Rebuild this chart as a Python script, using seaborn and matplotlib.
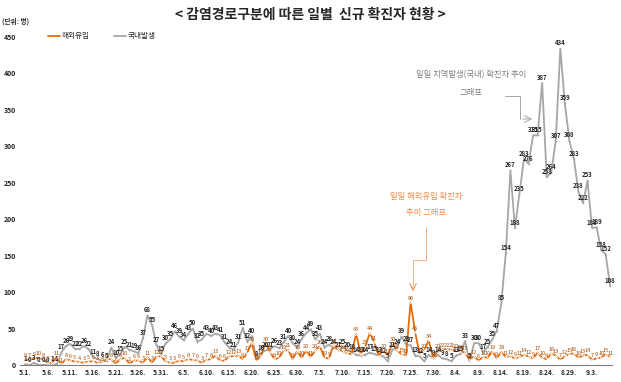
import datetime as dt

import matplotlib.pyplot as plt
import numpy as np
import pandas as pd
import seaborn as sns

# daily new cases, 2020-05-01 .. 2020-09-07
domestic = [1, 0, 3, 0, 0, 0, 1, 1,
            17, 26, 29, 22, 22, 26, 22,
            11, 8, 6, 5, 24, 10, 15, 25, 21, 19, 16, 37, 68, 55, 27, 15,
            30, 35, 46, 39, 34, 43, 50, 32, 35, 43,
            40, 43, 41, 31, 24, 21, 31,
            51, 32, 40, 8, 16,
            20, 21, 26, 23, 31, 40, 30, 24,
            36, 44, 49, 35, 43, 24, 28, 24, 21, 25,
            20, 18, 14, 13, 14, 17, 15, 13, 12, 5,
            21, 24, 39, 28, 27, 13, 12, 5, 14, 9,
            14, 9, 8, 5, 13, 15, 33, 5, 30, 30,
            17, 25, 35, 47, 85,
            154, 267, 188, 235, 283, 276, 315, 315, 387, 258, 264, 307,
            434, 359, 308, 283, 238, 222, 253, 188, 189, 158, 152, 108]
imported = [8, 7, 9, 10, 8, 3, 3, 11,
            1, 8, 6, 5, 4, 3, 5,
            5, 3, 4, 8, 8, 2, 8, 10, 2, 6, 6, 3, 11, 3, 12, 12,
            5, 3, 3, 6, 5, 8, 7, 6, 3, 7,
            8, 13, 6, 6, 12, 12, 13,
            8, 17, 30, 6, 12,
            30, 18, 8, 10, 19, 21, 8, 19,
            10, 20, 11, 20, 26, 10, 9, 27, 22, 19,
            16, 15, 43, 15, 25, 44, 31, 13, 20, 13,
            30, 20, 15, 13, 86, 45, 15, 20, 34, 9,
            20, 22, 22, 21, 20, 19, 17, 7, 12, 6,
            11, 10, 19, 9, 18,
            11, 12, 9, 11, 14, 12, 9, 17, 10, 8, 16, 13,
            7, 12, 15, 16, 10, 13, 14, 7, 9, 10, 15, 11]

start = dt.date(2020, 5, 1)
dates = [start + dt.timedelta(days=i) for i in range(len(domestic))]
tick_labels = [f"{d.month}.{d.day}." for d in dates[::5]]

df = pd.DataFrame({"day": np.arange(len(domestic)),
                   "국내발생": domestic, "해외유입": imported})

sns.set_theme(style="white")
plt.rcParams['font.family'] = ['Noto Sans CJK KR', 'DejaVu Sans']

ORANGE = "#E46C0A"
GRAY = "#A6A6A6"

fig = plt.figure(figsize=(6.21, 3.82), dpi=100)
ax = fig.add_axes([20 / 621, 17 / 382, 592 / 621, 328 / 382])

sns.lineplot(data=df, x="day", y="국내발생", ax=ax, color=GRAY, lw=1.3,
             marker="o", markersize=1.2, markeredgewidth=0, label="국내발생")
sns.lineplot(data=df, x="day", y="해외유입", ax=ax, color=ORANGE, lw=1.3,
             marker="x", markersize=2, markeredgewidth=0.6, label="해외유입")

for x, v in zip(df["day"], df["국내발생"]):
    ax.text(x, v + 3, str(v), ha="center", va="bottom", fontsize=4.3,
            color="#262626", fontweight="bold")
for x, v in zip(df["day"], df["해외유입"]):
    ax.text(x, v + 2, str(v), ha="center", va="bottom", fontsize=4.0,
            color="#A84A06")

ax.set_xlim(-1.1, 129.4)
ax.set_ylim(0, 450)
ax.set_yticks(range(0, 451, 50))
ax.set_yticklabels([str(v) for v in range(0, 451, 50)], fontsize=5, fontweight="bold")
ax.set_xticks(df["day"][::5])
ax.set_xticklabels(tick_labels, fontsize=4.8, fontweight="bold")
ax.tick_params(axis="both", length=0, pad=3)
ax.set_xlabel("")
ax.set_ylabel("")
for s in ["top", "right", "left"]:
    ax.spines[s].set_visible(False)
ax.spines["bottom"].set_color("#7F7F7F")
ax.spines["bottom"].set_linewidth(0.8)

handles, labels = ax.get_legend_handles_labels()
order = [labels.index("해외유입"), labels.index("국내발생")]
ax.legend([handles[i] for i in order], [labels[i] for i in order],
          loc="upper left", bbox_to_anchor=(0.035, 1.035), ncol=2, frameon=False,
          fontsize=5.5, handlelength=1.6, columnspacing=3.2, handletextpad=0.2)
for h in ax.get_legend().legend_handles:
    h.set_marker("")

fig.text(0.5, 1 - 15 / 382, "< 감염경로구분에 따른 일별  신규 확진자 현황 >",
         ha="center", va="center", fontsize=10, fontweight="bold")
fig.text(2 / 621, 1 - 21 / 382, "(단위: 명)", ha="left", va="center",
         fontsize=4.8, fontweight="bold")

# call-out for domestic series
fig.text(471 / 621, 1 - 75 / 382, "일일 지역발생(국내) 확진자 추이", ha="center",
         va="center", fontsize=6, color="#7F7F7F")
fig.text(471 / 621, 1 - 93 / 382, "그래프", ha="center", va="center",
         fontsize=6, color="#7F7F7F")
ax.annotate("", xy=(535, 382 - 119), xycoords="figure pixels",
            xytext=(520, 382 - 119), textcoords="figure pixels",
            arrowprops=dict(arrowstyle="->", color="#A6A6A6", lw=0.7))
fig.add_artist(plt.Line2D([505 / 621, 520 / 621, 520 / 621],
                          [1 - 96 / 382, 1 - 96 / 382, 1 - 119 / 382],
                          color="#A6A6A6", lw=0.7))

# call-out for imported series
fig.text(426 / 621, 1 - 197 / 382, "일일 해외유입 확진자", ha="center", va="center",
         fontsize=6, color="#F08A4B")
fig.text(426 / 621, 1 - 213 / 382, "추이 그래프", ha="center", va="center",
         fontsize=6, color="#F08A4B")
fig.add_artist(plt.Line2D([426 / 621, 426 / 621, 413 / 621, 413 / 621],
                          [1 - 227 / 382, 1 - 260 / 382, 1 - 260 / 382, 1 - 285 / 382],
                          color="#F4B183", lw=0.7))
ax.annotate("", xy=(413, 382 - 294), xycoords="figure pixels",
            xytext=(413, 382 - 284), textcoords="figure pixels",
            arrowprops=dict(arrowstyle="->", color="#F08A4B", lw=0.7))

plt.savefig("out.png", dpi=100)
plt.close()
